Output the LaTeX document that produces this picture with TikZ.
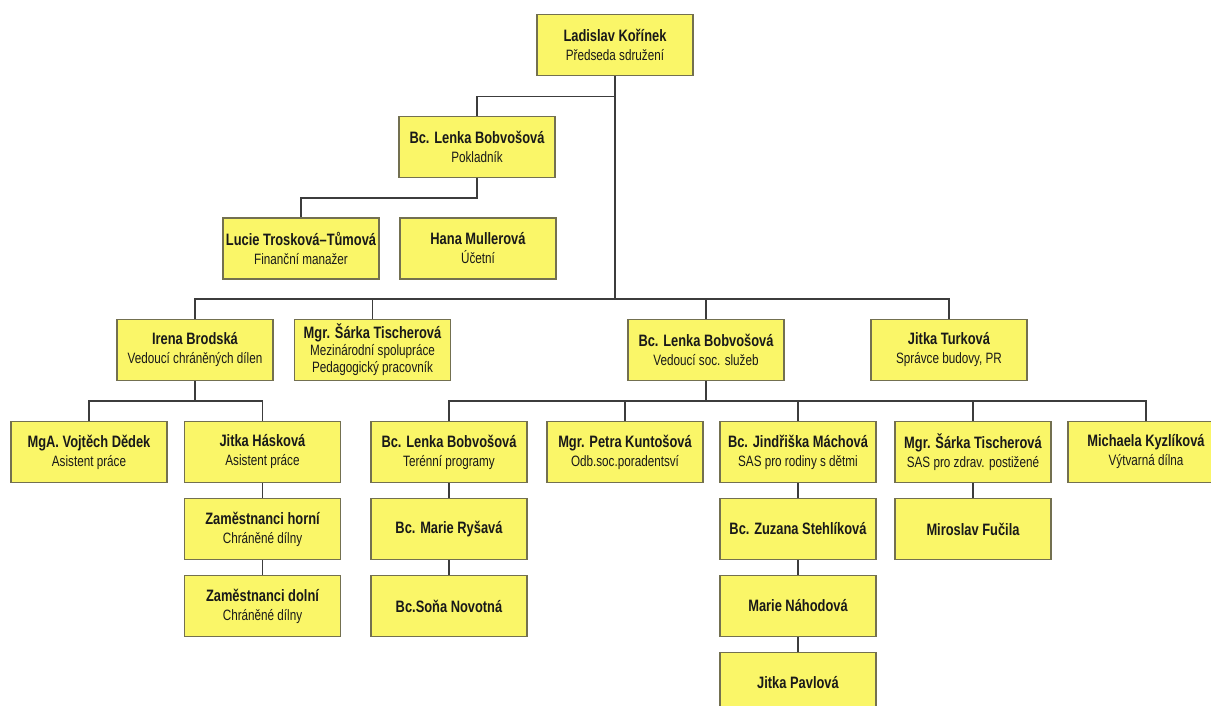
\documentclass[tikz,border=0pt]{standalone}
\usepackage{fontspec}
\setmainfont[FakeStretch=0.78]{Liberation Sans}
\definecolor{boxfill}{RGB}{250,246,104}
\definecolor{boxline}{RGB}{115,112,80}
\definecolor{conn}{RGB}{60,60,60}
\newcommand{\nm}[1]{{\fontsize{16.5}{19}\selectfont\bfseries #1}}
\newcommand{\rl}[1]{{\fontsize{15}{19}\selectfont #1}}
\begin{document}
\begin{tikzpicture}[x=1pt,y=-1pt,
  orgbox/.style={draw=boxline,fill=boxfill,line width=1.3pt,minimum width=156pt,minimum height=61pt,
    inner sep=1pt,align=center,text=black!90,font=\fontsize{15}{19}\selectfont},
  tightbox/.style={orgbox,font=\fontsize{15}{17}\selectfont},
  link/.style={draw=conn,line width=1.1pt}]
\useasboundingbox (0,0) rectangle (1211,706);
\clip (0,0) rectangle (1211,706);
\fill[white] (0,0) rectangle (1211,706);
% nodes
\node[orgbox] (top) at (615,45) {\nm{Ladislav Kořínek}\\\rl{Předseda sdružení}};
\node[orgbox] (pok) at (477,147) {\nm{Bc. Lenka Bobvošová}\\\rl{Pokladník}};
\node[orgbox] (luc) at (301,248.5) {\nm{Lucie Trosková–Tůmová}\\\rl{Finanční manažer}};
\node[orgbox] (han) at (478,248.5) {\nm{Hana Mullerová}\\\rl{Účetní}};
\node[orgbox] (ire) at (195,350) {\nm{Irena Brodská}\\\rl{Vedoucí chráněných dílen}};
\node[tightbox] (sar) at (372.5,350) {\nm{Mgr. Šárka Tischerová}\\\rl{Mezinárodní spolupráce}\\\rl{Pedagogický pracovník}};
\node[orgbox] (len) at (706,350) {\nm{Bc. Lenka Bobvošová}\\\rl{Vedoucí soc. služeb}};
\node[orgbox] (jtu) at (949,350) {\nm{Jitka Turková}\\\rl{Správce budovy, PR}};
\node[orgbox] (voj) at (89,452) {\nm{MgA. Vojtěch Dědek}\\\rl{Asistent práce}};
\node[orgbox] (has) at (262.5,452) {\nm{Jitka Hásková}\\\rl{Asistent práce}};
\node[orgbox] (zh) at (262.5,529) {\nm{Zaměstnanci horní}\\\rl{Chráněné dílny}};
\node[orgbox] (zd) at (262.5,606) {\nm{Zaměstnanci dolní}\\\rl{Chráněné dílny}};
\node[orgbox] (ter) at (449,452) {\nm{Bc. Lenka Bobvošová}\\\rl{Terénní programy}};
\node[orgbox] (rys) at (449,529) {\nm{Bc. Marie Ryšavá}};
\node[orgbox] (son) at (449,606) {\nm{Bc.Soňa Novotná}};
\node[orgbox] (pet) at (625,452) {\nm{Mgr. Petra Kuntošová}\\\rl{Odb.soc.poradentsví}};
\node[orgbox] (jin) at (798,452) {\nm{Bc. Jindřiška Máchová}\\\rl{SAS pro rodiny s dětmi}};
\node[orgbox] (zuz) at (798,529) {\nm{Bc. Zuzana Stehlíková}};
\node[orgbox] (mar) at (798,606) {\nm{Marie Náhodová}};
\node[orgbox] (pav) at (798,683) {\nm{Jitka Pavlová}};
\node[orgbox] (sas) at (973,452) {\nm{Mgr. Šárka Tischerová}\\\rl{SAS pro zdrav. postižené}};
\node[orgbox] (mir) at (973,529) {\nm{Miroslav Fučila}};
\node[orgbox] (mic) at (1146,452) {\nm{Michaela Kyzlíková}\\\rl{Výtvarná dílna}};
% connectors
\coordinate (busT) at (615,96.5);
\coordinate (bus) at (615,299);
\draw[link] (top.south) -- (bus);
\draw[link] (busT) -| (pok.north);
\draw[link] (pok.south) |- (301,198) -- (luc.north);
\draw[link] (bus) -| (ire.north);
\draw[link] (bus) -| (sar.north);
\draw[link] (bus) -| (len.north);
\draw[link] (bus) -| (jtu.north);
\draw[link] (ire.south) |- (89,401) -- (voj.north);
\draw[link] (ire.south) |- (262.5,401) -- (has.north);
\draw[link] (has) -- (zh);
\draw[link] (zh) -- (zd);
\draw[link] (len.south) |- (449,401) -- (ter.north);
\draw[link] (len.south) |- (1146,401) -- (mic.north);
\draw[link] (625,401) -- (pet.north);
\draw[link] (798,401) -- (jin.north);
\draw[link] (973,401) -- (sas.north);
\draw[link] (ter) -- (rys);
\draw[link] (rys) -- (son);
\draw[link] (jin) -- (zuz);
\draw[link] (zuz) -- (mar);
\draw[link] (mar) -- (pav);
\draw[link] (sas) -- (mir);
\end{tikzpicture}
\end{document}
